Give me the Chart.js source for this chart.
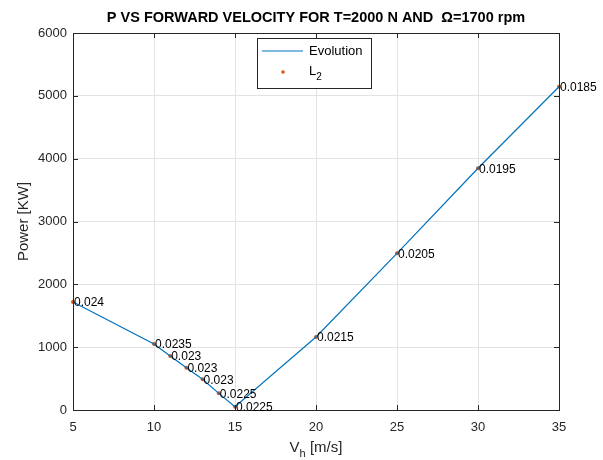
<!DOCTYPE html>
<html>
<head>
<meta charset="utf-8">
<script src="https://cdn.jsdelivr.net/npm/chart.js@4/dist/chart.umd.min.js"></script>
<style>
  body { margin: 0; background: #fff; }
  #wrap { width: 603px; height: 460px; }
</style>
</head>
<body>
<div id="wrap"><canvas id="grafico" width="603" height="460"></canvas></div>
<script>
// velocidade de avanco [m/s]
const velocidades = [5, 10, 11, 12, 13, 14, 15, 20, 25, 30, 35];
// potencia [KW]
const potencias = [1720, 1050, 860, 673, 489, 265, 53, 1162, 2494, 3847, 5145];
// valores de L2 escritos ao lado de cada ponto
const rotulosL2 = ['0.024', '0.0235', '0.023', '0.023', '0.023', '0.0225', '0.0225', '0.0215', '0.0205', '0.0195', '0.0185'];
const ticksX = [5, 10, 15, 20, 25, 30, 35];
const ticksY = [0, 1000, 2000, 3000, 4000, 5000, 6000];

const fonte = 'Arial, "Liberation Sans", Helvetica, sans-serif';
const azul = '#0072BD';
const laranja = '#D95319';

const pontos = velocidades.map((v, i) => ({ x: v, y: potencias[i] }));

// desenha caixa, marcas internas, titulos, rotulos e legenda (estilo matlab)
const estiloMatlab = {
    id: 'estiloMatlab',
    afterDatasetsDraw(chart) {
        const ctx = chart.ctx;
        const area = chart.chartArea;
        const sx = chart.scales.x;
        const sy = chart.scales.y;

        ctx.save();
        // caixa
        ctx.strokeStyle = '#262626';
        ctx.lineWidth = 1;
        ctx.strokeRect(Math.round(area.left) + 0.5, Math.round(area.top) + 0.5,
            Math.round(area.right - area.left), Math.round(area.bottom - area.top));

        // marcas para dentro
        ctx.beginPath();
        ticksX.forEach(t => {
            const px = Math.round(sx.getPixelForValue(t)) + 0.5;
            ctx.moveTo(px, area.bottom); ctx.lineTo(px, area.bottom - 5);
            ctx.moveTo(px, area.top); ctx.lineTo(px, area.top + 5);
        });
        ticksY.forEach(t => {
            const py = Math.round(sy.getPixelForValue(t)) + 0.5;
            ctx.moveTo(area.left, py); ctx.lineTo(area.left + 5, py);
            ctx.moveTo(area.right, py); ctx.lineTo(area.right - 5, py);
        });
        ctx.stroke();

        // rotulos L2
        ctx.fillStyle = '#000';
        ctx.font = '12px ' + fonte;
        ctx.textAlign = 'left';
        ctx.textBaseline = 'middle';
        pontos.forEach((p, i) => {
            ctx.fillText(rotulosL2[i], sx.getPixelForValue(p.x) + 1, sy.getPixelForValue(p.y) + 1);
        });

        // titulo
        ctx.fillStyle = '#000';
        ctx.font = 'bold 14.5px ' + fonte;
        ctx.textAlign = 'center';
        ctx.textBaseline = 'alphabetic';
        ctx.fillText('P VS FORWARD VELOCITY FOR T=2000 N AND  \u03A9=1700 rpm', (area.left + area.right) / 2, 22);

        // titulo eixo y
        ctx.fillStyle = '#262626';
        ctx.font = '15px ' + fonte;
        ctx.save();
        ctx.translate(28, (area.top + area.bottom) / 2);
        ctx.rotate(-Math.PI / 2);
        ctx.textAlign = 'center';
        ctx.fillText('Power [KW]', 0, 0);
        ctx.restore();

        // titulo eixo x com subscrito
        const cx = (area.left + area.right) / 2;
        ctx.textAlign = 'left';
        ctx.font = '15px ' + fonte;
        const wV = ctx.measureText('V').width;
        ctx.font = '11px ' + fonte;
        const wh = ctx.measureText('h').width;
        ctx.font = '15px ' + fonte;
        const wResto = ctx.measureText(' [m/s]').width;
        let x0 = cx - (wV + wh + wResto) / 2;
        ctx.fillText('V', x0, 452);
        ctx.font = '11px ' + fonte;
        ctx.fillText('h', x0 + wV, 457);
        ctx.font = '15px ' + fonte;
        ctx.fillText(' [m/s]', x0 + wV + wh, 452);

        // legenda
        const lx = 257, ly = 38, lw = 114, lh = 50;
        ctx.fillStyle = '#fff';
        ctx.fillRect(lx, ly, lw, lh);
        ctx.strokeStyle = '#262626';
        ctx.strokeRect(lx + 0.5, ly + 0.5, lw, lh);
        ctx.strokeStyle = azul;
        ctx.lineWidth = 1;
        ctx.beginPath();
        ctx.moveTo(lx + 5, ly + 13); ctx.lineTo(lx + 46, ly + 13);
        ctx.stroke();
        ctx.fillStyle = '#000';
        ctx.font = '13px ' + fonte;
        ctx.textBaseline = 'middle';
        ctx.fillText('Evolution', lx + 52, ly + 13);
        ctx.fillStyle = laranja;
        ctx.beginPath();
        ctx.arc(lx + 26, ly + 34, 1.8, 0, Math.PI * 2);
        ctx.fill();
        ctx.fillStyle = '#000';
        ctx.textBaseline = 'alphabetic';
        ctx.font = '13px ' + fonte;
        ctx.fillText('L', lx + 52, ly + 37);
        const wL = ctx.measureText('L').width;
        ctx.font = '10px ' + fonte;
        ctx.fillText('2', lx + 52 + wL, ly + 42);

        ctx.restore();
    }
};

new Chart(document.getElementById('grafico').getContext('2d'), {
    type: 'scatter',
    data: {
        datasets: [
            {
                label: 'Evolution',
                data: pontos,
                showLine: true,
                borderColor: azul,
                borderWidth: 1.2,
                pointRadius: 0,
                clip: false
            },
            {
                label: 'L2',
                data: pontos,
                showLine: false,
                pointStyle: 'circle',
                pointRadius: 2,
                backgroundColor: laranja,
                borderColor: laranja,
                borderWidth: 0,
                clip: false
            }
        ]
    },
    options: {
        responsive: false,
        animation: false,
        layout: { padding: { left: 0, top: 33, right: 44, bottom: 0 } },
        plugins: {
            legend: { display: false },
            title: { display: false },
            tooltip: { enabled: false }
        },
        scales: {
            x: {
                type: 'linear',
                min: 5,
                max: 35,
                afterFit(scale) { scale.height = 50; },
                afterBuildTicks(scale) { scale.ticks = ticksX.map(v => ({ value: v })); },
                grid: { color: '#e3e3e3', drawTicks: false },
                border: { display: false },
                ticks: { color: '#262626', font: { family: fonte, size: 13 }, padding: 10,
                    callback: v => String(v) }
            },
            y: {
                type: 'linear',
                min: 0,
                max: 6000,
                afterFit(scale) { scale.width = 73; },
                afterBuildTicks(scale) { scale.ticks = ticksY.map(v => ({ value: v })); },
                grid: { color: '#e3e3e3', drawTicks: false },
                border: { display: false },
                ticks: { color: '#262626', font: { family: fonte, size: 13 }, padding: 6,
                    callback: v => String(v) }
            }
        }
    },
    plugins: [estiloMatlab]
});
</script>
</body>
</html>
